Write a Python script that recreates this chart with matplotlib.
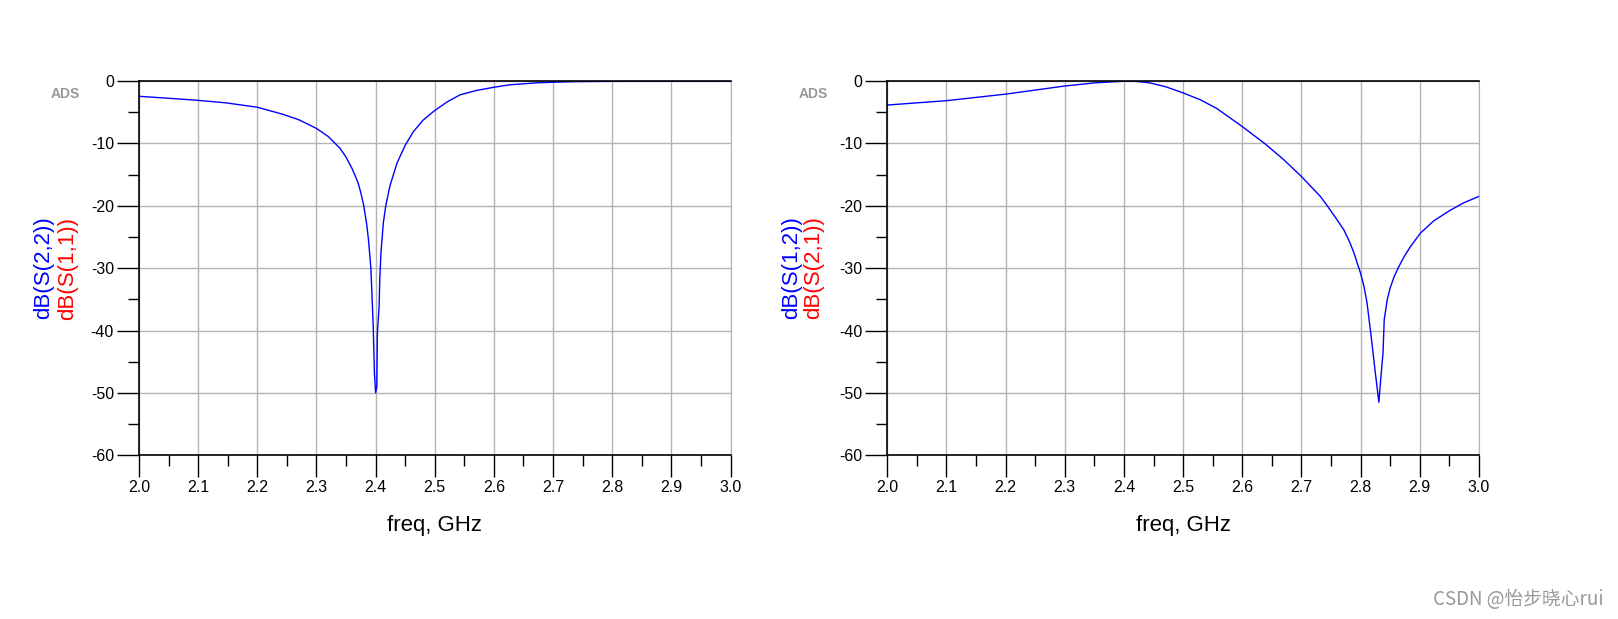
import numpy as np
import matplotlib
matplotlib.use("Agg")
import matplotlib.pyplot as plt
from matplotlib.ticker import MultipleLocator

plt.rcParams['font.family'] = ['Liberation Sans', 'DejaVu Sans']
plt.rcParams['axes.unicode_minus'] = False

# S22 (left plot)
freq_s22 = [2.0, 2.056, 2.1, 2.147, 2.2, 2.242, 2.27, 2.3, 2.32, 2.34, 2.35, 2.36,
            2.37, 2.375, 2.38, 2.385, 2.388, 2.392, 2.394, 2.396, 2.398, 2.400,
            2.402, 2.403, 2.406, 2.407, 2.409, 2.413, 2.417, 2.424, 2.436, 2.45,
            2.464, 2.48, 2.499, 2.52, 2.543, 2.571, 2.6, 2.627, 2.676, 2.734,
            2.8, 3.0]
db_s22 = [-2.45, -2.8, -3.1, -3.5, -4.2, -5.3, -6.2, -7.6, -8.9, -10.8, -12.2, -14.0,
          -16.2, -17.9, -20, -23, -25.5, -30, -34.6, -39.4, -46.8, -50,
          -49, -40.4, -36, -31.9, -27.6, -22.8, -20.1, -16.9, -13.2, -10.3,
          -8.1, -6.3, -4.8, -3.4, -2.2, -1.5, -1.0, -0.6, -0.27, -0.1,
          -0.05, -0.02]

# S12 (right plot)
freq_s12 = [2.0, 2.1, 2.2, 2.3, 2.35, 2.4, 2.42, 2.444, 2.47, 2.5, 2.529, 2.557,
            2.6, 2.639, 2.67, 2.70, 2.732, 2.743, 2.76, 2.772, 2.782, 2.789,
            2.800, 2.806, 2.811, 2.818, 2.825, 2.831, 2.834, 2.838, 2.840, 2.845,
            2.85, 2.857, 2.865, 2.874, 2.884, 2.901, 2.924, 2.952, 2.975, 3.0]
db_s12 = [-3.85, -3.15, -2.1, -0.8, -0.3, -0.02, -0.05, -0.3, -0.9, -1.9, -3.0, -4.4,
          -7.3, -10.1, -12.6, -15.3, -18.5, -19.9, -22.2, -23.9, -25.9, -27.6,
          -30.8, -33.0, -35.6, -41, -46.8, -51.5, -47.9, -43.6, -38.3, -35.1,
          -33.2, -31.3, -29.7, -28.1, -26.6, -24.4, -22.4, -20.7, -19.5, -18.5]

xticks = np.round(np.arange(2.0, 3.01, 0.1), 1)
yticks = np.arange(-60, 1, 10)

fig = plt.figure(figsize=(16.18, 6.19), dpi=100)

panels = [
    (0.0859, freq_s22, db_s22, 'dB(S(2,2))', 'dB(S(1,1))', 0.0272, 0.042, 0.031),
    (0.5484, freq_s12, db_s12, 'dB(S(1,2))', 'dB(S(2,1))', 0.4892, 0.5031, 0.4933),
]

for left, fx, fy, lab_blue, lab_red, xb, xr, xads in panels:
    ax = fig.add_axes([left, 0.2645, 0.3656, 0.6046])
    ax.plot(fx, fy, color='#0000ff', lw=1.0, zorder=2)
    ax.set_xlim(2.0, 3.0)
    ax.set_ylim(-60, 0)
    ax.set_xticks(xticks)
    ax.set_xticklabels([f"{t:.1f}" for t in xticks])
    ax.set_yticks(yticks)
    ax.xaxis.set_minor_locator(MultipleLocator(0.05))
    ax.yaxis.set_minor_locator(MultipleLocator(5))
    ax.grid(True, which='major', color='#b4b4b4', lw=1.0, zorder=1)
    ax.tick_params(which='major', direction='out', length=16, width=1,
                   labelsize=11.5, pad=2)
    ax.tick_params(which='minor', direction='out', length=8, width=1)
    for s in ['left', 'bottom', 'top']:
        ax.spines[s].set_color('black')
        ax.spines[s].set_linewidth(1.2)
        ax.spines[s].set_zorder(3)
    ax.spines['right'].set_color('#b4b4b4')
    ax.set_xlabel('freq, GHz', fontsize=16, labelpad=14)

    fig.text(xb, 0.567, lab_blue, color='#0000ff', fontsize=16, rotation=90,
             ha='center', va='center')
    fig.text(xr, 0.567, lab_red, color='#ff0000', fontsize=16, rotation=90,
             ha='center', va='center')
    fig.text(xads, 0.848, 'ADS', color='#999999', fontsize=10, fontweight='bold',
             ha='left', va='center')

fig.text(0.991, 0.031, 'CSDN @怡步晓心rui', color='#999999', fontsize=13.5,
         ha='right', va='center', family=['Noto Sans CJK SC', 'DejaVu Sans'])

fig.savefig('out.png', dpi=100)
